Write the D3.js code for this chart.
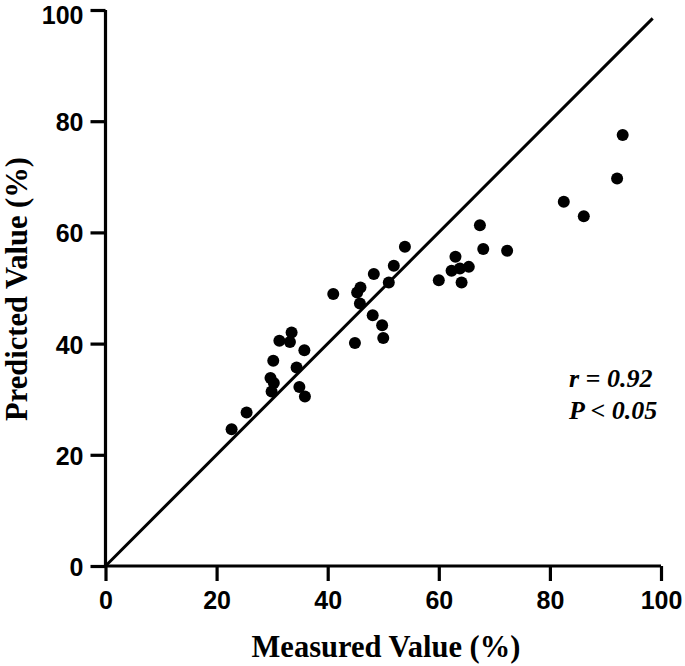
<!DOCTYPE html>
<html>
<head>
<meta charset="utf-8">
<script src="https://cdn.jsdelivr.net/npm/d3@7"></script>
<style>
  html, body { margin: 0; padding: 0; background: #fff; }
  svg { display: block; }
</style>
</head>
<body>
<svg id="chart" width="685" height="666"></svg>
<script>
const measured  = [22.7, 25.4, 29.7, 30.3, 29.9, 30.2, 31.3, 33.5, 33.2, 35.8, 34.4, 34.9, 35.9,
                   41.0, 44.9, 48.3, 45.9, 45.3, 45.8, 48.1, 49.8, 50.0, 51.0, 51.9, 53.9,
                   60.0, 63.0, 62.3, 63.8, 65.4, 64.1, 67.4, 68.0, 72.3,
                   82.5, 86.1, 92.1, 93.1];
const predicted = [24.6, 27.6, 33.8, 32.9, 31.4, 36.9, 40.5, 42.0, 40.3, 38.8, 35.7, 32.2, 30.5,
                   48.9, 40.1, 52.5, 50.1, 49.2, 47.2, 45.1, 43.3, 41.0, 51.0, 54.0, 57.4,
                   51.4, 55.6, 53.1, 53.5, 53.8, 51.0, 61.3, 57.0, 56.7,
                   65.5, 62.9, 69.7, 77.5];
const xTicks = [0, 20, 40, 60, 80, 100];
const yTicks = [0, 20, 40, 60, 80, 100];
const identityLine = [0, 98.5];
const xTitle = "Measured Value (%)";
const yTitle = "Predicted Value (%)";
const statLines = ["r = 0.92", "P < 0.05"];

const svg = d3.select("#chart");
const x = d3.scaleLinear().domain([0, 100]).range([105.5, 661]);
const y = d3.scaleLinear().domain([0, 100]).range([566, 10]);

// identity line
svg.append("line")
  .attr("x1", x(identityLine[0])).attr("y1", y(identityLine[0]))
  .attr("x2", x(identityLine[1])).attr("y2", y(identityLine[1]))
  .attr("stroke", "#000").attr("stroke-width", 3);

// axes
const xAxis = svg.append("g").attr("transform", `translate(0,${y(0)})`)
  .call(d3.axisBottom(x).tickValues(xTicks).tickSize(15).tickPadding(10).tickFormat(d3.format("d")));
const yAxis = svg.append("g").attr("transform", `translate(${x(0)},0)`)
  .call(d3.axisLeft(y).tickValues(yTicks).tickSize(15).tickPadding(7).tickFormat(d3.format("d")));
[xAxis, yAxis].forEach(g => {
  g.select(".domain").attr("stroke", "#000").attr("stroke-width", 3.2).attr("d",
    g === xAxis ? `M${x(0)},0H${x(100)}` : `M0,${y(0)}V${y(100)}`);
  g.selectAll(".tick line").attr("stroke", "#000").attr("stroke-width", 3.2);
  g.selectAll(".tick text").attr("fill", "#000")
    .style("font-family", "'Liberation Sans', Arial, sans-serif")
    .style("font-weight", "bold").style("font-size", "25px");
});
xAxis.selectAll(".tick text").attr("dy", "0.71em");
yAxis.selectAll(".tick text").attr("dy", d => d === 100 ? "0.52em" : "0.38em");

// points
svg.append("g").selectAll("circle")
  .data(measured.map((m, i) => [m, predicted[i]]))
  .join("circle")
  .attr("cx", d => x(d[0])).attr("cy", d => y(d[1]))
  .attr("r", 6).attr("fill", "#000");

// titles
svg.append("text").attr("x", 386).attr("y", 657).attr("text-anchor", "middle")
  .style("font-family", "'Liberation Serif', 'Times New Roman', serif")
  .style("font-weight", "bold").style("font-size", "30.5px").text(xTitle);
svg.append("text").attr("transform", "translate(27,289) rotate(-90)").attr("text-anchor", "middle")
  .style("font-family", "'Liberation Serif', 'Times New Roman', serif")
  .style("font-weight", "bold").style("font-size", "30.5px").text(yTitle);

// stats
svg.append("g").selectAll("text").data(statLines).join("text")
  .attr("x", 569).attr("y", (d, i) => 387 + i * 32)
  .style("font-family", "'Liberation Serif', 'Times New Roman', serif")
  .style("font-weight", "bold").style("font-style", "italic").style("font-size", "26px")
  .text(d => d);
</script>
</body>
</html>
